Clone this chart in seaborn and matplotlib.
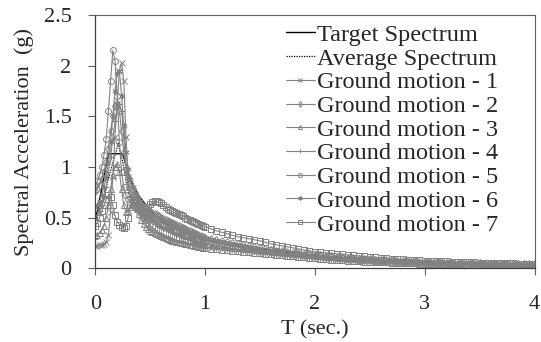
import matplotlib
matplotlib.use("Agg")
import numpy as np
import pandas as pd
import matplotlib.pyplot as plt
import seaborn as sns

# periods (s)
T = [0.00, 0.02, 0.04, 0.06, 0.08, 0.10, 0.12, 0.14, 0.16, 0.18,
     0.20, 0.22, 0.24, 0.26, 0.28, 0.30, 0.32, 0.34, 0.36, 0.38,
     0.40, 0.42, 0.44, 0.46, 0.48, 0.50, 0.52, 0.54, 0.56, 0.58,
     0.60, 0.62, 0.64, 0.66, 0.68, 0.70, 0.72, 0.74, 0.76, 0.78,
     0.80, 0.82, 0.84, 0.86, 0.88, 0.90, 0.92, 0.94, 0.96, 0.98,
     1.00,
     1.05, 1.10, 1.15, 1.20, 1.25, 1.30, 1.35, 1.40, 1.45, 1.50,
     1.55, 1.60, 1.65, 1.70, 1.75, 1.80, 1.85, 1.90, 1.95, 2.00,
     2.05, 2.10, 2.15, 2.20, 2.25, 2.30, 2.35, 2.40, 2.45, 2.50,
     2.55, 2.60, 2.65, 2.70, 2.75, 2.80, 2.85, 2.90, 2.95, 3.00,
     3.05, 3.10, 3.15, 3.20, 3.25, 3.30, 3.35, 3.40, 3.45, 3.50,
     3.55, 3.60, 3.65, 3.70, 3.75, 3.80, 3.85, 3.90, 3.95, 4.00]

gm1 = [0.22, 0.22, 0.23, 0.23, 0.24, 0.26, 0.33, 0.55, 0.90, 1.30,
       1.62, 1.95, 2.03, 1.85, 1.30, 0.90, 0.76, 0.70, 0.65, 0.60,
       0.55, 0.51, 0.49, 0.49, 0.50, 0.51, 0.52, 0.52, 0.51, 0.50,
       0.49, 0.48, 0.47, 0.46, 0.45, 0.44, 0.43, 0.42, 0.41, 0.40,
       0.39, 0.38, 0.37, 0.36, 0.35, 0.34, 0.33, 0.32, 0.31, 0.30,
       0.29,
       0.27, 0.26, 0.25, 0.24, 0.23, 0.22, 0.21, 0.20, 0.19, 0.18,
       0.17, 0.165, 0.16, 0.15, 0.14, 0.135, 0.13, 0.125, 0.12, 0.115,
       0.11, 0.105, 0.10, 0.095, 0.09, 0.088, 0.085, 0.082, 0.08, 0.077,
       0.074, 0.071, 0.068, 0.065, 0.062, 0.06, 0.058, 0.056, 0.054, 0.052,
       0.05, 0.049, 0.048, 0.047, 0.046, 0.045, 0.044, 0.043, 0.042, 0.041,
       0.04, 0.039, 0.038, 0.037, 0.036, 0.035, 0.034, 0.033, 0.032, 0.031]

gm2 = [0.76, 0.78, 0.82, 0.88, 0.95, 1.05, 1.18, 1.35, 1.50, 1.60,
       1.62, 1.55, 1.35, 1.15, 0.98, 0.90, 0.84, 0.78, 0.74, 0.70,
       0.66, 0.63, 0.60, 0.58, 0.56, 0.55, 0.54, 0.53, 0.52, 0.51,
       0.50, 0.49, 0.48, 0.47, 0.46, 0.45, 0.44, 0.43, 0.42, 0.41,
       0.40, 0.39, 0.38, 0.37, 0.36, 0.35, 0.34, 0.33, 0.32, 0.31,
       0.30,
       0.29, 0.28, 0.27, 0.26, 0.25, 0.24, 0.23, 0.22, 0.21, 0.20,
       0.19, 0.18, 0.17, 0.165, 0.16, 0.15, 0.145, 0.14, 0.135, 0.13,
       0.125, 0.12, 0.115, 0.11, 0.105, 0.10, 0.097, 0.094, 0.091, 0.088,
       0.085, 0.082, 0.079, 0.076, 0.073, 0.07, 0.068, 0.066, 0.064, 0.062,
       0.06, 0.058, 0.056, 0.054, 0.052, 0.05, 0.049, 0.048, 0.047, 0.046,
       0.045, 0.044, 0.043, 0.042, 0.041, 0.04, 0.039, 0.038, 0.037, 0.036]

gm3 = [0.32, 0.33, 0.35, 0.38, 0.42, 0.50, 0.62, 0.78, 0.92, 1.00,
       1.03, 0.95, 0.78, 0.62, 0.55, 0.56, 0.60, 0.63, 0.62, 0.58,
       0.53, 0.48, 0.44, 0.41, 0.39, 0.37, 0.36, 0.35, 0.34, 0.33,
       0.32, 0.31, 0.30, 0.29, 0.28, 0.27, 0.265, 0.26, 0.255, 0.25,
       0.245, 0.24, 0.235, 0.23, 0.225, 0.22, 0.215, 0.21, 0.205, 0.20,
       0.195,
       0.19, 0.185, 0.18, 0.175, 0.17, 0.165, 0.16, 0.155, 0.15, 0.145,
       0.14, 0.135, 0.13, 0.125, 0.12, 0.115, 0.11, 0.105, 0.10, 0.096,
       0.092, 0.088, 0.084, 0.08, 0.077, 0.074, 0.071, 0.068, 0.065, 0.062,
       0.06, 0.058, 0.056, 0.054, 0.052, 0.05, 0.048, 0.046, 0.044, 0.042,
       0.041, 0.04, 0.039, 0.038, 0.037, 0.036, 0.035, 0.034, 0.033, 0.032,
       0.031, 0.03, 0.029, 0.028, 0.027, 0.026, 0.025, 0.024, 0.023, 0.022]

gm4 = [0.50, 0.52, 0.56, 0.62, 0.70, 0.80, 0.95, 1.10, 1.28, 1.45,
       1.58, 1.62, 1.55, 1.30, 1.00, 0.80, 0.70, 0.65, 0.62, 0.60,
       0.57, 0.54, 0.51, 0.48, 0.45, 0.42, 0.40, 0.38, 0.36, 0.35,
       0.34, 0.33, 0.32, 0.31, 0.30, 0.29, 0.28, 0.275, 0.27, 0.265,
       0.26, 0.255, 0.25, 0.245, 0.24, 0.235, 0.23, 0.225, 0.22, 0.215,
       0.21,
       0.205, 0.20, 0.195, 0.19, 0.185, 0.18, 0.175, 0.17, 0.165, 0.16,
       0.155, 0.15, 0.145, 0.14, 0.135, 0.13, 0.125, 0.12, 0.115, 0.11,
       0.105, 0.10, 0.096, 0.092, 0.088, 0.084, 0.08, 0.077, 0.074, 0.071,
       0.068, 0.065, 0.062, 0.06, 0.058, 0.056, 0.054, 0.052, 0.05, 0.048,
       0.047, 0.046, 0.045, 0.044, 0.043, 0.042, 0.041, 0.04, 0.039, 0.038,
       0.037, 0.036, 0.035, 0.034, 0.033, 0.032, 0.031, 0.03, 0.029, 0.028]

gm5 = [0.82, 0.86, 0.92, 1.00, 1.12, 1.28, 1.55, 1.85, 2.15, 2.05,
       1.70, 1.25, 0.95, 0.80, 0.72, 0.68, 0.65, 0.62, 0.60, 0.58,
       0.56, 0.55, 0.54, 0.53, 0.52, 0.50, 0.49, 0.48, 0.47, 0.46,
       0.45, 0.44, 0.43, 0.42, 0.41, 0.40, 0.39, 0.38, 0.37, 0.36,
       0.35, 0.34, 0.335, 0.33, 0.325, 0.32, 0.31, 0.30, 0.29, 0.28,
       0.27,
       0.26, 0.25, 0.24, 0.23, 0.22, 0.21, 0.20, 0.19, 0.18, 0.17,
       0.165, 0.16, 0.155, 0.15, 0.145, 0.14, 0.135, 0.13, 0.125, 0.12,
       0.115, 0.11, 0.105, 0.10, 0.096, 0.092, 0.088, 0.084, 0.08, 0.077,
       0.074, 0.071, 0.068, 0.065, 0.062, 0.06, 0.058, 0.056, 0.054, 0.052,
       0.05, 0.049, 0.048, 0.047, 0.046, 0.045, 0.044, 0.043, 0.042, 0.041,
       0.04, 0.039, 0.038, 0.037, 0.036, 0.035, 0.034, 0.033, 0.032, 0.031]

gm6 = [0.60, 0.62, 0.66, 0.72, 0.80, 0.90, 1.05, 1.25, 1.50, 1.75,
       1.93, 1.95, 1.70, 1.40, 1.15, 0.98, 0.88, 0.80, 0.74, 0.69,
       0.65, 0.61, 0.58, 0.55, 0.52, 0.49, 0.47, 0.45, 0.43, 0.42,
       0.41, 0.40, 0.39, 0.38, 0.37, 0.36, 0.35, 0.34, 0.33, 0.32,
       0.31, 0.30, 0.295, 0.29, 0.28, 0.27, 0.26, 0.255, 0.25, 0.245,
       0.24,
       0.23, 0.22, 0.21, 0.20, 0.19, 0.18, 0.175, 0.17, 0.165, 0.16,
       0.15, 0.145, 0.14, 0.135, 0.13, 0.125, 0.12, 0.115, 0.11, 0.105,
       0.10, 0.096, 0.092, 0.088, 0.084, 0.08, 0.077, 0.074, 0.071, 0.068,
       0.065, 0.062, 0.06, 0.058, 0.056, 0.054, 0.052, 0.05, 0.048, 0.046,
       0.045, 0.044, 0.043, 0.042, 0.041, 0.04, 0.039, 0.038, 0.037, 0.036,
       0.035, 0.034, 0.033, 0.032, 0.031, 0.03, 0.029, 0.028, 0.027, 0.026]

gm7 = [0.42, 0.45, 0.50, 0.56, 0.62, 0.68, 0.72, 0.70, 0.62, 0.52,
       0.46, 0.43, 0.41, 0.40, 0.42, 0.50, 0.62, 0.68, 0.70, 0.68,
       0.64, 0.60, 0.58, 0.58, 0.60, 0.63, 0.65, 0.66, 0.66, 0.65,
       0.64, 0.62, 0.60, 0.58, 0.57, 0.56, 0.55, 0.54, 0.53, 0.52,
       0.51, 0.50, 0.49, 0.48, 0.47, 0.46, 0.45, 0.44, 0.43, 0.42,
       0.41,
       0.39, 0.37, 0.355, 0.34, 0.325, 0.31, 0.30, 0.29, 0.28, 0.27,
       0.255, 0.24, 0.23, 0.22, 0.21, 0.20, 0.19, 0.18, 0.17, 0.16,
       0.155, 0.15, 0.145, 0.14, 0.135, 0.13, 0.125, 0.12, 0.115, 0.11,
       0.106, 0.102, 0.098, 0.094, 0.09, 0.087, 0.084, 0.081, 0.078, 0.075,
       0.072, 0.07, 0.068, 0.066, 0.064, 0.062, 0.06, 0.058, 0.056, 0.054,
       0.052, 0.05, 0.049, 0.048, 0.047, 0.046, 0.045, 0.044, 0.043, 0.042]

# target design spectrum
T_target = [0.0, 0.12, 0.25, 0.30, 0.35, 0.40, 0.50, 0.60, 0.70, 0.80,
            0.90, 1.00, 1.20, 1.40, 1.60, 1.80, 2.00, 2.50, 3.00, 3.50, 4.00]
sa_target = [0.45, 1.13, 1.13, 0.94, 0.81, 0.71, 0.57, 0.47, 0.40, 0.35,
             0.31, 0.28, 0.235, 0.20, 0.175, 0.15, 0.12, 0.08, 0.055, 0.04, 0.03]

# average of scaled records
T_avg = [0.0, 0.05, 0.10, 0.15, 0.21, 0.25, 0.30, 0.35, 0.40, 0.50, 0.60,
         0.70, 0.80, 0.90, 1.00, 1.20, 1.50, 2.00, 2.50, 3.00, 3.50, 4.00]
sa_avg = [0.52, 0.62, 0.80, 1.00, 1.23, 1.05, 0.75, 0.65, 0.58, 0.52, 0.48,
          0.43, 0.39, 0.35, 0.31, 0.26, 0.20, 0.13, 0.09, 0.065, 0.05, 0.04]

records = [gm1, gm2, gm3, gm4, gm5, gm6, gm7]
markers = ['x', 'd', '^', '+', 'o', (6, 2, 0), 's']
hollow = [False, True, True, False, True, False, True]

sns.set_theme(style="ticks")
plt.rcParams['font.family'] = ['Liberation Serif', 'DejaVu Serif']

fig, ax = plt.subplots(figsize=(5.41, 3.42), dpi=100)
fig.subplots_adjust(left=0.176, right=0.988, top=0.956, bottom=0.216)

grey = '#828282'
sns.lineplot(x=T_target, y=sa_target, ax=ax, color='black', lw=1.0,
             label='Target Spectrum')
sns.lineplot(x=T_avg, y=sa_avg, ax=ax, color='black', lw=0.9,
             linestyle=(0, (1, 1)), label='Average Spectrum')

for i, (sa, mk, hol) in enumerate(zip(records, markers, hollow)):
    sns.lineplot(x=T, y=sa, ax=ax, color=grey, lw=0.8, marker=mk,
                 markersize=4.3, markeredgewidth=0.7,
                 markerfacecolor='none' if hol else grey,
                 markeredgecolor=grey,
                 label=f'Ground motion - {i + 1}')

ax.set_xlim(0, 4)
ax.set_ylim(0, 2.5)
ax.set_xticks([0, 1, 2, 3, 4])
ax.set_yticks([0, 0.5, 1, 1.5, 2, 2.5])
ax.set_yticklabels(['0', '0.5', '1', '1.5', '2', '2.5'])
ax.tick_params(axis='both', labelsize=16, length=5, width=0.8,
               color='#606060')
ax.tick_params(axis='x', pad=14)
ax.tick_params(axis='y', pad=12)
ax.set_xlabel('T (sec.)', fontsize=16, labelpad=5)
ax.set_ylabel('Spectral Acceleration  (g)', fontsize=16, labelpad=7)

for side in ['left', 'bottom']:
    ax.spines[side].set_color('#404040')
    ax.spines[side].set_linewidth(0.9)
for side in ['top', 'right']:
    ax.spines[side].set_visible(True)
    ax.spines[side].set_color('#606060')
    ax.spines[side].set_linewidth(0.8)

leg = ax.legend(loc='upper right', bbox_to_anchor=(0.918, 0.965), frameon=False,
                fontsize=17.5, handlelength=1.2, handletextpad=0.1,
                labelspacing=0.07, borderaxespad=0.0, borderpad=0.0)
for h in leg.legend_handles:
    h.set_markersize(3)

plt.savefig('out.png', dpi=100)
